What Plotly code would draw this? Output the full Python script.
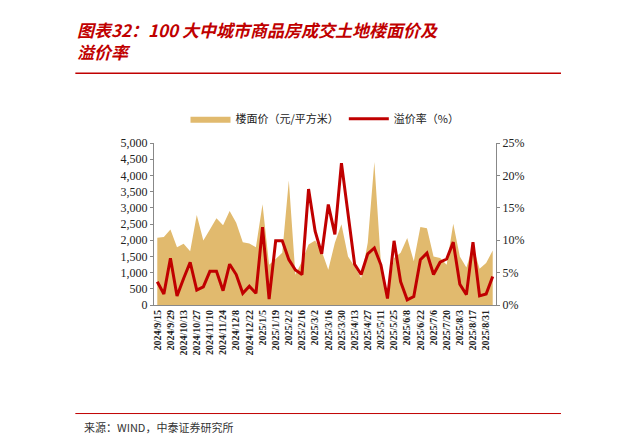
import plotly.graph_objects as go
import datetime as dt

price = [2075,2100,2330,1780,1890,1660,2780,1990,2330,2680,2460,2900,2540,1940,1900,1780,
         3110,1240,1420,1610,3840,930,1350,1870,1990,1660,1090,1920,2490,1500,1190,830,
         1920,4410,1300,350,1450,1610,2070,1350,2410,2370,1500,1450,1240,2510,1500,1160,
         1820,1120,1300,1680]
premium = [3.6,1.7,7.2,1.4,4.1,6.6,2.3,2.8,5.2,5.2,2.2,6.3,4.7,1.8,2.9,1.8,
           12.0,0.9,9.9,9.9,7.0,5.4,4.7,17.9,11.4,7.9,15.5,10.9,21.9,14.0,6.3,4.7,
           7.9,8.8,6.2,1.0,9.9,3.6,0.8,1.3,7.0,8.0,4.7,6.6,7.1,9.7,3.2,1.6,
           9.7,1.4,1.7,4.4]
start = dt.date(2024, 9, 15)
dates = [start + dt.timedelta(weeks=i) for i in range(len(price))]
labels = [f"{d.year}/{d.month}/{d.day}" for d in dates]
tickvals = labels[::2]

fig = go.Figure()
fig.add_trace(go.Scatter(x=labels, y=price, name="楼面价（元/平方米）", fill="tozeroy",
                         mode="lines", line=dict(width=0, color="#E1BA6E"),
                         fillcolor="#E1BA6E"))
fig.add_trace(go.Scatter(x=labels, y=premium, name="溢价率（%）", yaxis="y2",
                         mode="lines", line=dict(width=3, color="#C00000")))

serif = "Liberation Serif"
fig.update_layout(
    width=621, height=437, plot_bgcolor="white", paper_bgcolor="white",
    margin=dict(l=146, r=133, t=135, b=140),
    showlegend=True,
    legend=dict(orientation="h", x=0.5, xanchor="center", y=1.06, yanchor="bottom",
                font=dict(family="Noto Sans CJK SC", size=11, color="#222"),
                itemwidth=40),
    xaxis=dict(type="category", tickvals=tickvals, ticktext=tickvals, tickangle=-90,
               tickfont=dict(family=serif, size=10, color="#222", weight="bold"),
               showgrid=False, showline=True, linecolor="#888", ticks="", range=[-0.5, len(price)-0.5]),
    yaxis=dict(range=[0, 5000], dtick=500, tickformat=",", showgrid=False,
               showline=True, linecolor="#888", ticks="outside", ticklen=3, tickcolor="#888",
               tickfont=dict(family=serif, size=12, color="#222")),
    yaxis2=dict(range=[0, 25], dtick=5, ticksuffix="%", overlaying="y", side="right",
                showgrid=False, showline=True, linecolor="#888", ticks="outside", ticklen=3,
                tickcolor="#888", tickfont=dict(family=serif, size=12, color="#222")),
)
fig.add_annotation(xref="paper", yref="paper", x=-0.23, y=1.79, xanchor="left", yanchor="top",
                   showarrow=False, align="left",
                   text="<b><i>图表32：100 大中城市商品房成交土地楼面价及<br>溢价率</i></b>",
                   font=dict(family="Noto Sans CJK SC", size=17, color="#C00000"))
fig.add_shape(type="line", xref="paper", yref="paper", x0=-0.23, x1=1.19, y0=1.43, y1=1.43,
              line=dict(color="#C00000", width=1.5))
fig.add_shape(type="line", xref="paper", yref="paper", x0=-0.23, x1=1.19, y0=-0.67, y1=-0.67,
              line=dict(color="#C00000", width=1))
fig.add_annotation(xref="paper", yref="paper", x=-0.21, y=-0.69, xanchor="left", yanchor="top",
                   showarrow=False, text="来源：WIND，中泰证券研究所",
                   font=dict(family="Noto Sans CJK SC", size=11, color="#333"))
fig.write_html("out.html")
